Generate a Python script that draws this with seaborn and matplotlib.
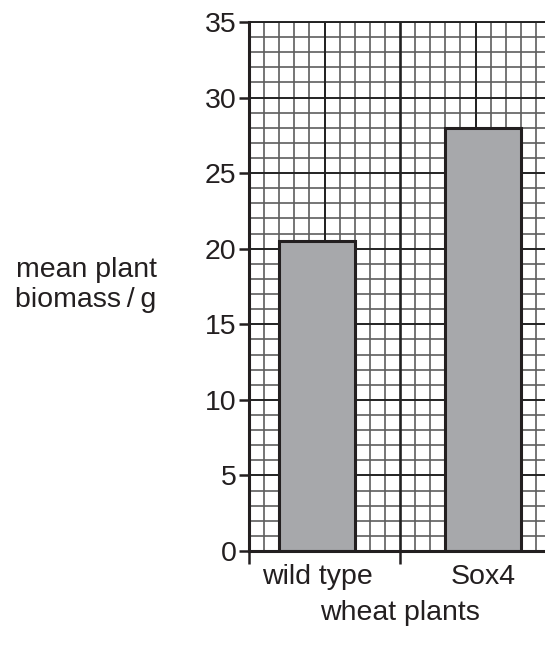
import matplotlib
matplotlib.use("Agg")
import matplotlib.pyplot as plt
import seaborn as sns
import pandas as pd
import numpy as np

categories = ["wild type", "Sox4"]
biomass = [20.5, 28.0]
y_ticks = [0, 5, 10, 15, 20, 25, 30, 35]

sns.set_style("white")
plt.rcParams['font.family'] = ['Liberation Sans', 'DejaVu Sans']

df = pd.DataFrame({"plant": categories, "biomass": biomass})

W, H = 545, 655
FS = 20.5
fig = plt.figure(figsize=(W / 100, H / 100), dpi=100)
left, right, top, bottom = 249, 551, 22, 551
ax = fig.add_axes([left / W, 1 - bottom / H, (right - left) / W, (bottom - top) / H])

sq = 1 / 11.0  # one grid square in x data units
xmin, xmax = -4.5 * sq, 1 + 4.5 * sq

sns.barplot(data=df, x="plant", y="biomass", order=categories, color="#a7a8ab",
            width=5 * sq, edgecolor="#231f20", linewidth=2.2, saturation=1,
            ax=ax, zorder=3)

ax.set_xlim(xmin, xmax)
ax.set_ylim(0, 35)

# grid: minor every square, darker every 5
ax.set_xticks(np.arange(0, 21) * sq + xmin, minor=True)
ax.set_yticks(np.arange(0, 36), minor=True)
ax.grid(which="minor", color="#5e5e5e", linewidth=1.2, zorder=0)
ax.tick_params(which="minor", length=0)
for k in range(0, 21, 5):
    xv = xmin + k * sq
    lw = 1.9 if k == 10 else 1.4
    ax.axvline(xv, color="#222222", linewidth=lw, zorder=1)
for yv in y_ticks:
    ax.axhline(yv, color="#222222", linewidth=1.4, zorder=1)

# major ticks
ax.set_yticks(y_ticks)
ax.set_yticklabels([str(v) for v in y_ticks], fontsize=FS, color="#231f20")
ax.tick_params(axis="y", which="major", direction="out", length=7, width=1.8,
               color="#231f20", pad=2, left=True)

ax.set_xticks([xmin, 0, 0.5, 1])
ax.set_xticklabels(["", categories[0], "", categories[1]], fontsize=FS, color="#231f20")
ax.tick_params(axis="x", which="major", direction="out", length=9, width=1.8,
               color="#231f20", pad=0, bottom=True)
xt = ax.xaxis.get_major_ticks()
xt[1].tick1line.set_visible(False)
xt[3].tick1line.set_visible(False)

for s in ["left", "bottom"]:
    ax.spines[s].set_visible(True)
    ax.spines[s].set_color("#231f20")
    ax.spines[s].set_linewidth(2.2)
    ax.spines[s].set_zorder(5)
ax.spines["top"].set_visible(True)
ax.spines["top"].set_color("#222222")
ax.spines["top"].set_linewidth(1.4)
ax.spines["right"].set_visible(False)

ax.set_xlabel("")
ax.set_ylabel("")
fig.text(86 / W, 1 - 285 / H, "mean plant\nbiomass\u2009/\u2009g", ha="center", va="center",
         fontsize=FS, color="#231f20", linespacing=1.2)
fig.text(400 / W, 1 - 613 / H, "wheat plants", ha="center", va="center",
         fontsize=FS, color="#231f20")

fig.savefig("out.png", dpi=100, facecolor="white")
